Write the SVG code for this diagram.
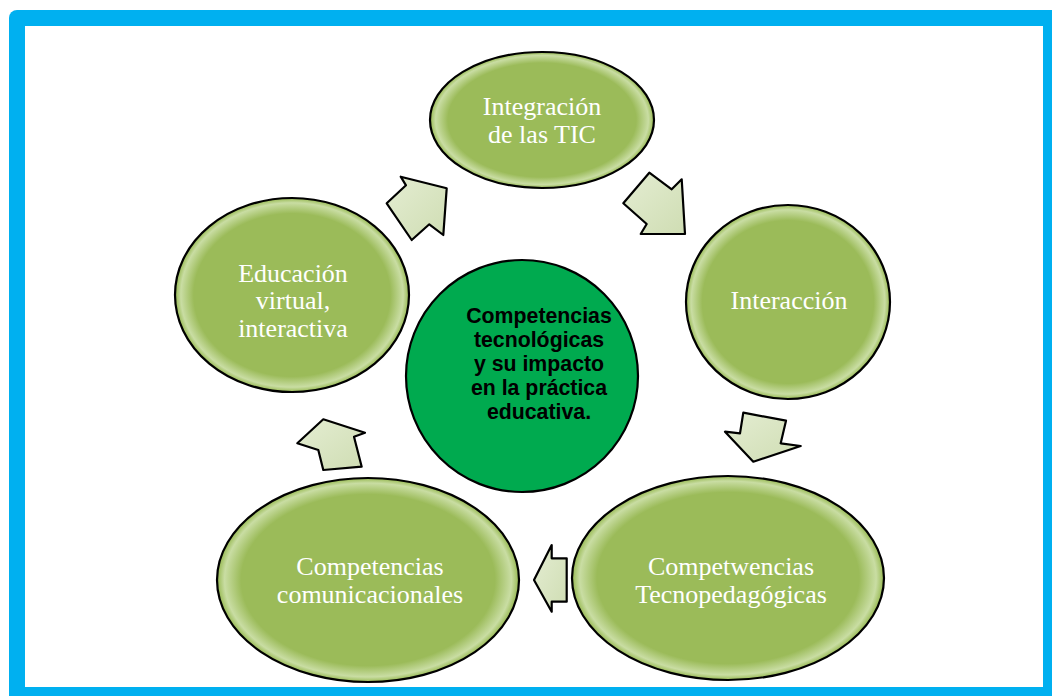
<svg xmlns="http://www.w3.org/2000/svg" width="1052" height="696" viewBox="0 0 1052 696">
<defs>
<radialGradient id="gl" cx="0.5" cy="0.5" r="0.5">
<stop offset="0" stop-color="#9BBB59"/>
<stop offset="0.84" stop-color="#9BBB59"/>
<stop offset="0.95" stop-color="#C9DDA3"/>
<stop offset="0.985" stop-color="#A6C46A"/>
<stop offset="1" stop-color="#8FAF4E"/>
</radialGradient>
<linearGradient id="ag" x1="0" y1="0" x2="1" y2="1">
<stop offset="0" stop-color="#E4EDD2"/>
<stop offset="1" stop-color="#CFDDB3"/>
</linearGradient>
<style>
.node{fill:url(#gl);stroke:#000;stroke-width:2.2}
.lbl{font-family:"Liberation Serif","Times New Roman",serif;font-size:26px;fill:#fff;text-anchor:middle}
.ctr{font-family:"Liberation Sans",Arial,sans-serif;font-size:21.3px;font-weight:bold;fill:#000;text-anchor:middle}
.arr{fill:url(#ag);stroke:#000;stroke-width:2.2;stroke-linejoin:round}
</style>
</defs>
<rect x="9" y="10" width="1080" height="720" rx="8" fill="#00B0F0"/>
<rect x="25" y="26" width="1018" height="661" fill="#fff"/>

<g id="connectors">
<polygon class="arr" points="400.7,176.7 406,185.3 386.7,203.3 411.7,240 429.3,224.3 443.3,235 446.7,188.3"/>
<polygon class="arr" points="649.3,172.7 671.7,189.3 681.7,179.3 685,234 640.7,234 646.7,224 623.3,203.3"/>
<polygon class="arr" points="743.3,412.7 786,420.7 780.7,443.3 800.7,446 753.3,461.7 725,431.7 740,433.3"/>
<polygon class="arr" points="566.7,558.3 551.7,558.3 551.7,545 534,580 551.7,611.7 551.7,601.7 566.7,601.7"/>
<polygon class="arr" points="323.3,419.3 365,432.7 354,436.7 361.7,466.7 323.3,470 318.3,450 297.3,443.3"/>
</g>

<g id="node-integracion">
<ellipse class="node" cx="542" cy="120" rx="112" ry="68"/>
<text class="lbl" x="542" y="115">Integración</text>
<text class="lbl" x="542" y="143">de las TIC</text>
</g>
<g id="node-interaccion">
<ellipse class="node" cx="788" cy="302" rx="102" ry="97"/>
<text class="lbl" x="789" y="309">Interacción</text>
</g>
<g id="node-tecnopedagogicas">
<ellipse class="node" cx="728" cy="578" rx="156" ry="102"/>
<text class="lbl" x="731" y="575">Competwencias</text>
<text class="lbl" x="731" y="603">Tecnopedagógicas</text>
</g>
<g id="node-comunicacionales">
<ellipse class="node" cx="368" cy="580" rx="151" ry="102"/>
<text class="lbl" x="370" y="575">Competencias</text>
<text class="lbl" x="370" y="603">comunicacionales</text>
</g>
<g id="node-educacion">
<ellipse class="node" cx="292" cy="295" rx="117" ry="97"/>
<text class="lbl" x="293" y="282">Educación</text>
<text class="lbl" x="293" y="309">virtual,</text>
<text class="lbl" x="293" y="337">interactiva</text>
</g>
<g id="node-center">
<circle cx="522" cy="376" r="116" fill="#00AA4F" stroke="#000" stroke-width="2.2"/>
<text class="ctr" x="539" y="323">Competencias</text>
<text class="ctr" x="539" y="347">tecnológicas</text>
<text class="ctr" x="539" y="371">y su impacto</text>
<text class="ctr" x="539" y="395">en la práctica</text>
<text class="ctr" x="539" y="419">educativa.</text>
</g>
</svg>
